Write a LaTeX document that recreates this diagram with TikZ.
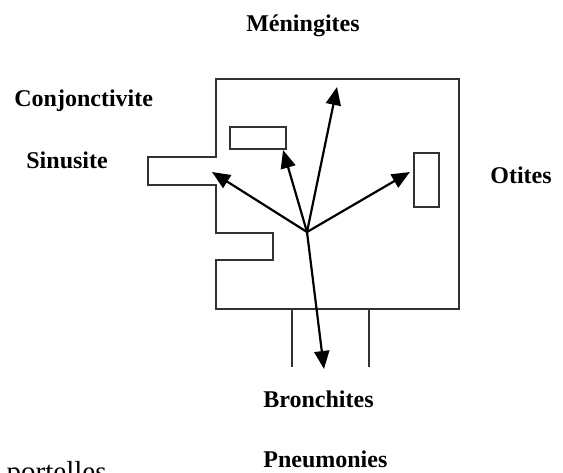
\documentclass[tikz,border=0pt]{standalone}
\usepackage{fontspec}
\setmainfont{Liberation Serif}
\usetikzlibrary{arrows.meta}
\definecolor{wall}{RGB}{50,50,50}
\tikzset{
  >={Triangle[length=9pt,width=7.5pt]},
  outline/.style={draw=wall,line width=1.1pt},
  spread/.style={->,line width=1.1pt,draw=black},
  disease/.style={font=\fontsize{12}{14}\selectfont\bfseries,inner sep=0pt,anchor=base west},
}

\begin{document}
\begin{tikzpicture}[x=0.5pt,y=-0.5pt]
  \useasboundingbox (0,0) rectangle (563,472);
  % head outline with the nose and the mouth
  \draw[outline] (216,79) -- (459,79) -- (459,309) -- (216,309) -- (216,260)
    -- (273,260) -- (273,233) -- (216,233) -- (216,185) -- (148,185)
    -- (148,157) -- (216,157) -- cycle;
  % eye and ear
  \node[outline,minimum width=28pt,minimum height=11pt,inner sep=0pt] (eye) at (258,138) {};
  \node[outline,minimum width=12.5pt,minimum height=27pt,inner sep=0pt] (ear) at (426.5,180) {};
  % neck
  \draw[outline] (292,309) -- (292,367) (369,309) -- (369,367);

  \coordinate (hub) at (307,232);
  \coordinate (brain) at (337,87);
  \coordinate (sinus) at (212,172);
  \coordinate (lung) at (324,369);
  \foreach \t in {brain,sinus,lung} \draw[spread] (hub) -- (\t);
  \draw[spread] (hub) -- ([xshift=-2pt]eye.south east);
  \draw[spread] (hub) -- ([xshift=-1.5pt,yshift=4pt]ear.west);

  \node[disease,anchor=base] (meningites) at (303,31) {Méningites};
  \node[disease] (conjonctivite) at (14,106) {Conjonctivite};
  \node[disease] (sinusite) at (26,168) {Sinusite};
  \node[disease] (otites) at (490,183) {Otites};
  \node[disease] (bronchites) at (263,407) {Bronchites};
  \node[disease] (pneumonies) at (263,467) {Pneumonies};
  \node[font=\fontsize{14.5}{16}\selectfont,inner sep=0pt,anchor=base east] (portelles) at (107,481) {portelles};
\end{tikzpicture}
\end{document}
